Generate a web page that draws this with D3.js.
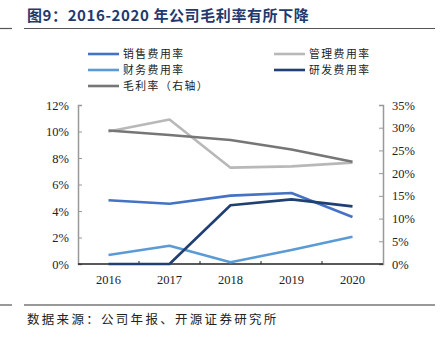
<!DOCTYPE html>
<html><head><meta charset="utf-8">
<script src="https://cdn.jsdelivr.net/npm/d3@7/dist/d3.min.js"></script>
<style>body{margin:0;background:#fff}svg{display:block}</style>
</head><body>
<script>
const years = ["2016","2017","2018","2019","2020"];
const sales = [4.81, 4.55, 5.16, 5.36, 3.55];
const admin = [10.0, 10.9, 7.27, 7.37, 7.65];
const finance = [0.68, 1.38, 0.13, 1.06, 2.06];
const rd = [0, 0, 4.43, 4.88, 4.35];
const gross = [29.4, 28.4, 27.3, 25.2, 22.5];
const leftTicks = [0,2,4,6,8,10,12];
const rightTicks = [0,5,10,15,20,25,30,35];

const W=442,H=340;
const svg=d3.select("body").append("svg").attr("width",W).attr("height",H);
const cjk='"Noto Sans CJK SC", sans-serif';
const serif='"Liberation Serif", "DejaVu Serif", serif';

svg.append("text").attr("x",27).attr("y",21).attr("font-family",cjk).attr("font-weight","bold")
  .attr("font-size",15).attr("letter-spacing",0.6).attr("fill","#1F3A6E").text("图9：2016-2020 年公司毛利率有所下降");
svg.append("line").attr("x1",24).attr("x2",435).attr("y1",28.5).attr("y2",28.5).attr("stroke","#555").attr("stroke-width",1.2);
svg.append("line").attr("x1",0).attr("x2",12).attr("y1",28.5).attr("y2",28.5).attr("stroke","#555").attr("stroke-width",1.2);
svg.append("line").attr("x1",24).attr("x2",435).attr("y1",305).attr("y2",305).attr("stroke","#777").attr("stroke-width",1.5);
svg.append("line").attr("x1",0).attr("x2",12).attr("y1",305).attr("y2",305).attr("stroke","#777").attr("stroke-width",1.5);
svg.append("text").attr("x",27).attr("y",324).attr("font-family",cjk).attr("font-size",12.5)
  .attr("letter-spacing",2.3).attr("fill","#222").text("数据来源：公司年报、开源证券研究所");

const x=d3.scaleBand().domain(years).range([78,383]);
const yL=d3.scaleLinear().domain([0,12]).range([264,105]);
const yR=d3.scaleLinear().domain([0,35]).range([264,105]);

const gl=svg.append("g").attr("transform","translate(78,0)")
  .call(d3.axisLeft(yL).tickValues(leftTicks).tickSize(-4).tickPadding(9).tickFormat(d=>d+"%"));
gl.select(".domain").attr("stroke","#999").attr("stroke-width",1.5);
gl.selectAll(".tick line").attr("stroke","#999");
gl.selectAll("text").attr("font-family",serif).attr("font-size",12.5).attr("fill","#222");

const gr=svg.append("g").attr("transform","translate(383,0)")
  .call(d3.axisRight(yR).tickValues(rightTicks).tickSize(-4).tickPadding(9).tickFormat(d=>d+"%"));
gr.select(".domain").attr("stroke","#999").attr("stroke-width",1.5);
gr.selectAll(".tick line").attr("stroke","#999");
gr.selectAll("text").attr("font-family",serif).attr("font-size",12.5).attr("fill","#222");

const gb=svg.append("g").attr("transform","translate(0,264)");
gb.append("line").attr("x1",78).attr("x2",383).attr("stroke","#222").attr("stroke-width",1.5);
years.slice(1).forEach(y=>{
  gb.append("line").attr("x1",x(y)).attr("x2",x(y)).attr("y1",0).attr("y2",-3).attr("stroke","#222");
});
years.forEach(y=>{
  gb.append("text").attr("x",x(y)+x.bandwidth()/2).attr("y",20).attr("text-anchor","middle")
    .attr("font-family",serif).attr("font-size",12.5).attr("fill","#222").text(y);
});

const cx=d=>x(d)+x.bandwidth()/2;
const series=[
  {name:"销售费用率",vals:sales,color:"#4472C4",scale:yL},
  {name:"管理费用率",vals:admin,color:"#B8B8B8",scale:yL},
  {name:"财务费用率",vals:finance,color:"#5B9BD5",scale:yL},
  {name:"研发费用率",vals:rd,color:"#203F72",scale:yL},
  {name:"毛利率（右轴）",vals:gross,color:"#767676",scale:yR}
];
const drawOrder=[2,0,3,1,4];
drawOrder.forEach(i=>{
  const s=series[i];
  const line=d3.line().x((d,j)=>cx(years[j])).y(d=>s.scale(d));
  svg.append("path").datum(s.vals).attr("d",line).attr("fill","none")
    .attr("stroke",s.color).attr("stroke-width",2.6).attr("stroke-linejoin","round");
});

const legPos=[[88,54],[274,54],[88,70],[274,70],[88,86]];
series.forEach((s,i)=>{
  const [lx,ly]=legPos[i];
  svg.append("line").attr("x1",lx).attr("x2",lx+31).attr("y1",ly).attr("y2",ly)
    .attr("stroke",s.color).attr("stroke-width",2.6);
  svg.append("text").attr("x",lx+35).attr("y",ly+4).attr("font-family",cjk).attr("font-size",10.8)
    .attr("letter-spacing",1.5).attr("fill","#222").text(s.name);
});
</script>
</body></html>
